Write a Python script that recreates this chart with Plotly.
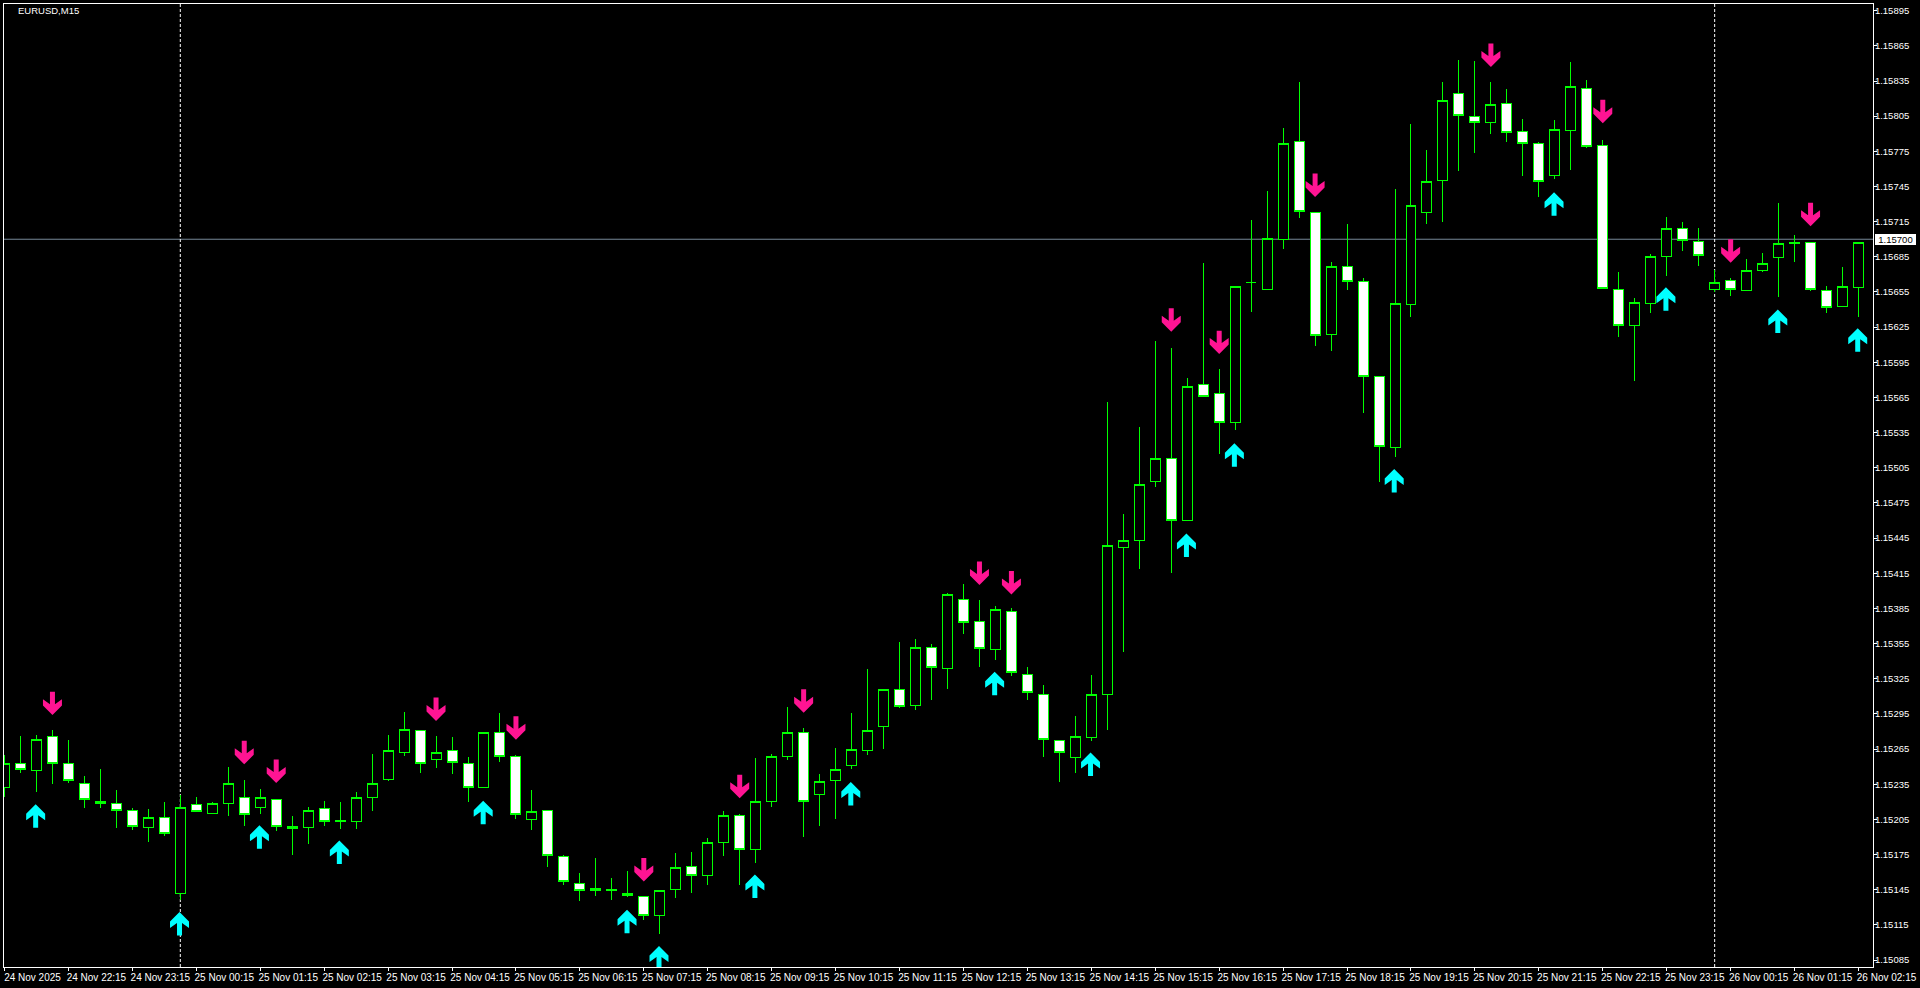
import plotly.graph_objects as go

# ---- data (EURUSD, M15) ----
opens = [1.15232,1.15253,1.15247,1.15276,1.15253,1.15236,1.15220,1.15219,1.15213,1.15198,1.15207,1.15142,1.15218,1.15210,1.15219,1.15224,1.15215,1.15222,1.15199,1.15198,
1.15214,1.15203,1.15203,1.15224,1.15239,1.15262,1.15281,1.15256,1.15264,1.15253,1.15232,1.15279,1.15259,1.15205,1.15213,1.15173,1.15150,1.15144,1.15144,1.15142,
1.15139,1.15123,1.15145,1.15165,1.15157,1.15185,1.15208,1.15179,1.15220,1.15259,1.15279,1.15226,1.15238,1.15251,1.15264,1.15284,1.15316,1.15302,1.15352,1.15334,
1.15393,1.15374,1.15350,1.15382,1.15329,1.15312,1.15272,1.15258,1.15275,1.15312,1.15437,1.15443,1.15493,1.15513,1.15460,1.15576,1.15568,1.15544,1.15663,1.15657,
1.15700,1.15783,1.15723,1.15619,1.15677,1.15664,1.15583,1.15522,1.15644,1.15723,1.15750,1.15824,1.15805,1.15800,1.15816,1.15792,1.15782,1.15754,1.15793,1.15829,
1.15780,1.15657,1.15626,1.15645,1.15685,1.15709,1.15698,1.15657,1.15665,1.15656,1.15673,1.15684,1.15696,1.15697,1.15656,1.15643,1.15659]
highs = [1.15260,1.15276,1.15277,1.15281,1.15273,1.15242,1.15248,1.15230,1.15215,1.15214,1.15220,1.15226,1.15224,1.15220,1.15250,1.15239,1.15231,1.15222,1.15208,1.15216,
1.15221,1.15220,1.15228,1.15261,1.15277,1.15297,1.15281,1.15276,1.15275,1.15258,1.15279,1.15296,1.15260,1.15230,1.15213,1.15175,1.15159,1.15172,1.15155,1.15161,
1.15139,1.15145,1.15176,1.15177,1.15189,1.15212,1.15210,1.15257,1.15261,1.15301,1.15283,1.15244,1.15266,1.15296,1.15333,1.15316,1.15356,1.15359,1.15355,1.15398,
1.15406,1.15392,1.15387,1.15385,1.15335,1.15320,1.15272,1.15293,1.15328,1.15561,1.15466,1.15540,1.15613,1.15607,1.15582,1.15680,1.15589,1.15660,1.15716,1.15741,
1.15795,1.15834,1.15723,1.15681,1.15713,1.15667,1.15583,1.15743,1.15798,1.15776,1.15834,1.15853,1.15852,1.15834,1.15828,1.15803,1.15783,1.15802,1.15851,1.15836,
1.15785,1.15672,1.15650,1.15687,1.15719,1.15715,1.15710,1.15674,1.15667,1.15683,1.15688,1.15731,1.15704,1.15697,1.15660,1.15676,1.15698]
lows = [1.15224,1.15245,1.15228,1.15235,1.15236,1.15215,1.15215,1.15198,1.15196,1.15186,1.15191,1.15136,1.15212,1.15210,1.15208,1.15199,1.15210,1.15195,1.15175,1.15184,
1.15199,1.15197,1.15197,1.15212,1.15238,1.15259,1.15245,1.15249,1.15244,1.15220,1.15232,1.15254,1.15205,1.15196,1.15164,1.15149,1.15135,1.15140,1.15136,1.15139,
1.15119,1.15107,1.15138,1.15142,1.15149,1.15174,1.15149,1.15168,1.15216,1.15256,1.15190,1.15199,1.15205,1.15248,1.15260,1.15265,1.15300,1.15298,1.15307,1.15316,
1.15363,1.15335,1.15341,1.15327,1.15307,1.15258,1.15237,1.15245,1.15272,1.15281,1.15348,1.15419,1.15489,1.15415,1.15460,1.15566,1.15517,1.15537,1.15638,1.15657,
1.15692,1.15718,1.15609,1.15605,1.15657,1.15552,1.15493,1.15514,1.15634,1.15713,1.15715,1.15758,1.15774,1.15790,1.15783,1.15754,1.15736,1.15751,1.15759,1.15778,
1.15658,1.15617,1.15579,1.15637,1.15669,1.15690,1.15677,1.15655,1.15652,1.15656,1.15672,1.15651,1.15681,1.15656,1.15637,1.15643,1.15634]
closes = [1.15253,1.15248,1.15273,1.15253,1.15238,1.15222,1.15219,1.15213,1.15199,1.15207,1.15193,1.15215,1.15212,1.15219,1.15236,1.15209,1.15224,1.15199,1.15197,1.15213,
1.15203,1.15204,1.15224,1.15236,1.15264,1.15282,1.15253,1.15262,1.15254,1.15232,1.15279,1.15259,1.15209,1.15212,1.15174,1.15152,1.15144,1.15146,1.15145,1.15140,
1.15123,1.15144,1.15164,1.15157,1.15185,1.15208,1.15179,1.15220,1.15259,1.15279,1.15220,1.15237,1.15248,1.15265,1.15281,1.15316,1.15301,1.15352,1.15335,1.15397,
1.15373,1.15351,1.15384,1.15330,1.15313,1.15273,1.15262,1.15276,1.15312,1.15439,1.15443,1.15491,1.15513,1.15460,1.15574,1.15566,1.15544,1.15660,1.15663,1.15701,
1.15782,1.15724,1.15618,1.15677,1.15664,1.15583,1.15523,1.15645,1.15729,1.15749,1.15818,1.15806,1.15800,1.15815,1.15791,1.15782,1.15749,1.15794,1.15830,1.15779,
1.15658,1.15626,1.15646,1.15685,1.15709,1.15699,1.15686,1.15663,1.15657,1.15673,1.15679,1.15696,1.15697,1.15657,1.15642,1.15660,1.15697]

sell_index = [3,15,17,27,32,40,46,50,61,63,73,76,82,93,100,108,113]
sell_price = [1.15294,1.15252,1.15236,1.15289,1.15273,1.15152,1.15223,1.15296,1.15405,1.15397,1.15621,1.15602,1.15736,1.15847,1.15799,1.15680,1.15711]
buy_index = [2,11,16,21,30,39,41,47,53,62,68,74,77,87,97,104,111,116]
buy_price = [1.15218,1.15126,1.15200,1.15187,1.15221,1.15128,1.15097,1.15158,1.15237,1.15331,1.15262,1.15449,1.15526,1.15504,1.15740,1.15659,1.15640,1.15624]

separator_index = [11, 107]
current_price = 1.15700

price_ticks = [1.15895,1.15865,1.15835,1.15805,1.15775,1.15745,1.15715,1.15685,1.15655,1.15625,1.15595,1.15565,1.15535,1.15505,
1.15475,1.15445,1.15415,1.15385,1.15355,1.15325,1.15295,1.15265,1.15235,1.15205,1.15175,1.15145,1.15115,1.15085]
time_tick_index = list(range(0, 117, 4))
time_tick_labels = ["24 Nov 2025","24 Nov 22:15","24 Nov 23:15","25 Nov 00:15","25 Nov 01:15","25 Nov 02:15","25 Nov 03:15","25 Nov 04:15",
"25 Nov 05:15","25 Nov 06:15","25 Nov 07:15","25 Nov 08:15","25 Nov 09:15","25 Nov 10:15","25 Nov 11:15","25 Nov 12:15","25 Nov 13:15",
"25 Nov 14:15","25 Nov 15:15","25 Nov 16:15","25 Nov 17:15","25 Nov 18:15","25 Nov 19:15","25 Nov 20:15","25 Nov 21:15","25 Nov 22:15",
"25 Nov 23:15","26 Nov 00:15","26 Nov 01:15","26 Nov 02:15"]

# ---- layout geometry ----
W, H = 1920, 988
ML, MR, MT, MB = 3, 46, 3, 21
PW, PH = W - ML - MR, H - MT - MB
X0, X1 = -0.03125, 116.90625   # exactly 16 px per candle, wicks on pixel centres
Y0, Y1 = 1.150791, 1.159007
px_x = (X1 - X0) / PW      # data units per pixel
px_y = (Y1 - Y0) / PH


def arrows(indices, prices, direction, x_offset_px):
    """Arrow outline in pixels, tip at (0,0), growing away from the tip."""
    outline = [(0, 0), (9.5, 9.5), (9.5, 16), (2.5, 11), (2.5, 23.5), (-2.5, 23.5), (-2.5, 11), (-9.5, 16), (-9.5, 9.5), (0, 0)]
    xs, ys = [], []
    for i, p in zip(indices, prices):
        for dx, dy in outline:
            xs.append(i + (dx + x_offset_px) * px_x)
            ys.append(p + direction * dy * px_y)
        xs.append(None)
        ys.append(None)
    return xs, ys


x = list(range(len(opens)))
fig = go.Figure()
fig.add_trace(go.Candlestick(
    x=x, open=opens, high=highs, low=lows, close=closes,
    increasing=dict(line=dict(color="#00FF00", width=1), fillcolor="#000000"),
    decreasing=dict(line=dict(color="#00FF00", width=1), fillcolor="#FFFFFF"),
    whiskerwidth=0, showlegend=False, hoverinfo="skip"))

sx, sy = arrows(sell_index, sell_price, 1, 0)
bx, by = arrows(buy_index, buy_price, -1, -0.8)
fig.add_trace(go.Scatter(x=sx, y=sy, mode="lines", fill="toself", fillcolor="#FF1493",
                         line=dict(width=0, color="#FF1493"), showlegend=False, hoverinfo="skip"))
fig.add_trace(go.Scatter(x=bx, y=by, mode="lines", fill="toself", fillcolor="#00FFFF",
                         line=dict(width=0, color="#00FFFF"), showlegend=False, hoverinfo="skip"))

shapes = [dict(type="line", xref="paper", x0=0, x1=1, yref="y", y0=current_price, y1=current_price,
               line=dict(color="#778899", width=1), layer="below")]
for i in separator_index:
    shapes.append(dict(type="line", xref="x", x0=i, x1=i, yref="paper", y0=0, y1=1,
                       line=dict(color="#FFFFFF", width=1, dash="3px,2px"), layer="below"))

FONT = "Liberation Sans"
fig.update_layout(
    width=W, height=H, autosize=False,
    margin=dict(l=ML, r=MR, t=MT, b=MB, pad=0),
    paper_bgcolor="#000000", plot_bgcolor="#000000",
    boxgap=0.375, boxgroupgap=0,
    shapes=shapes, hovermode=False, dragmode=False,
    font=dict(family=FONT, size=10, color="#FFFFFF"),
    xaxis=dict(range=[X0, X1], showgrid=False, zeroline=False, rangeslider=dict(visible=False),
               tickmode="array", tickvals=time_tick_index, ticktext=time_tick_labels,
               ticks="outside", ticklen=3, tickwidth=1, tickcolor="#FFFFFF",
               ticklabelshift=28, ticklabelstandoff=-2, tickangle=0,
               tickfont=dict(family=FONT, size=10, color="#FFFFFF"),
               showline=True, linecolor="#FFFFFF", linewidth=1, mirror=True),
    yaxis=dict(range=[Y0, Y1], side="right", showgrid=False, zeroline=False,
               tickmode="array", tickvals=price_ticks, ticktext=[f"{p:.5f}" for p in price_ticks],
               ticks="outside", ticklen=3, tickwidth=1, tickcolor="#FFFFFF",
               ticklabelstandoff=-4,
               tickfont=dict(family=FONT, size=9.5, color="#FFFFFF"),
               showline=True, linecolor="#FFFFFF", linewidth=1, mirror=True),
    annotations=[
        dict(text="EURUSD,M15", xref="paper", yref="paper", x=0, y=1, xanchor="left", yanchor="top",
             xshift=12, yshift=1, showarrow=False, font=dict(family=FONT, size=9.5, color="#FFFFFF")),
        dict(text=f"{current_price:.5f}", xref="paper", yref="y", x=1, y=current_price, xanchor="left", yanchor="middle",
             xshift=2, showarrow=False, bgcolor="#FFFFFF", font=dict(family=FONT, size=9.5, color="#000000"),
             width=41, height=11, align="center", borderpad=0, borderwidth=0),
    ])

fig.write_html("out.html", config=dict(displayModeBar=False),
               post_script="document.body.style.margin='0';document.documentElement.style.overflow='hidden';"
                           "document.documentElement.style.background='#000';"
                           "var s=document.createElement('style');s.textContent='.boxlayer path{shape-rendering:crispEdges}';"
                           "document.head.appendChild(s);")
